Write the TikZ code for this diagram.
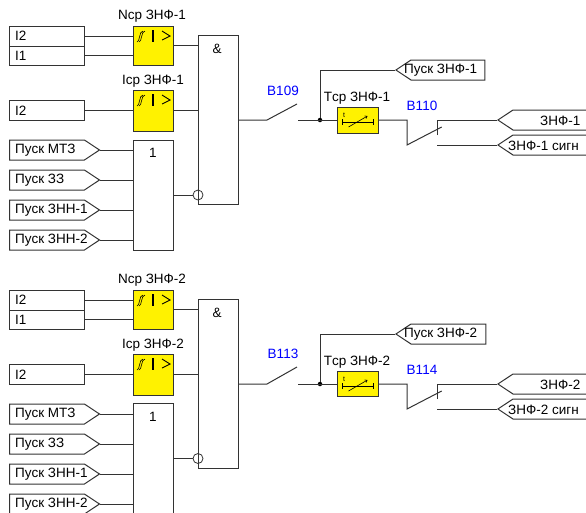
\documentclass[tikz,border=0pt]{standalone}
\usepackage{fontspec}
\setmainfont{Liberation Sans}
\usetikzlibrary{shapes.symbols,arrows.meta}
\definecolor{linegray}{gray}{0.2}
\tikzset{
	lbl/.style={inner sep=0pt, font=\fontsize{13.5}{15}\selectfont},
	lftlbl/.style={lbl, anchor=west},
	blulbl/.style={lbl, text=blue},
	inbox/.style={draw=linegray, line width=1pt, minimum width=75, minimum height=20, inner sep=0pt},
	sigin/.style={signal, signal to=east, signal pointer angle=67, draw=linegray, line width=1pt, minimum width=90, minimum height=20, inner sep=0pt, anchor=west},
	sigout/.style={signal, signal to=west, signal pointer angle=67, draw=linegray, line width=1pt, minimum height=20, inner sep=0pt, anchor=west},
	logic/.style={draw=linegray, line width=1pt, minimum width=40, inner sep=0pt},
	yelbox/.style={draw=linegray, line width=1pt, fill=yellow, minimum width=40, inner sep=0pt},
	wire/.style={draw=linegray, line width=1pt},
	inv/.style={circle, draw=linegray, line width=0.8pt, minimum size=10, inner sep=0pt},
	jdot/.style={circle, fill=black, minimum size=4.5, inner sep=0pt},
}
\newcommand{\hyst}[2]{%
	\draw [line width=0.6pt] (#1-4,#2+6) .. controls (#1-1,#2+6) and (#1-2,#2-5) .. (#1+2,#2-5);
	\draw [line width=0.6pt] (#1-2,#2+6) .. controls (#1+1,#2+6) and (#1,#2-5) .. (#1+4,#2-5);
	\draw [line width=1.5pt] (#1+12,#2-6) -- (#1+12,#2+6);
	\draw [line width=0.9pt] (#1+21,#2-5) -- (#1+29,#2) -- (#1+21,#2+4);
}
\newcommand{\tsym}[2]{%
	\draw [line width=0.7pt] (#1-15.5,#2+2) -- (#1+15.5,#2+2);
	\draw [line width=0.7pt] (#1-15.5,#2-1) -- (#1-15.5,#2+5);
	\draw [line width=0.7pt] (#1+15.5,#2-1) -- (#1+15.5,#2+5);
	\draw [line width=0.6pt, -{Straight Barb[length=2pt,width=3pt]}] (#1-9,#2+7) -- (#1+10,#2-4);
	\node at (#1-13.5,#2-4.5) [inner sep=0pt, font=\fontsize{7}{8}\selectfont] {t};
}

\begin{document}
\begin{tikzpicture}[x=1pt,y=-1pt]
	\clip (0,0) rectangle (586,512);
	\fill [white] (0,0) rectangle (586,512);

	\node (ia) at (46.5,36) [inbox] {};
	\node (ib) at (46.5,55.5) [inbox, minimum height=19] {};
	\node (ic) at (46.5,110) [inbox] {};
	\node (ial) at (15,36) [lftlbl] {I2};
	\node (ibl) at (15,56) [lftlbl] {I1};
	\node (icl) at (15,110.5) [lftlbl] {I2};
	\node (nsr) at (153,45.5) [yelbox, minimum height=39] {};
	\node (isr) at (153,110.5) [yelbox, minimum height=41] {};
	\node (nsrl) at (152,16) [lbl] {Nср ЗНФ-1};
	\node (isrl) at (153,81) [lbl] {Iср ЗНФ-1};
	\hyst{141}{36}
	\hyst{141}{100}
	\node (and) at (218,120) [logic, minimum height=169] {};
	\node (andl) at (217,49) [lbl] {\&};
	\node (or) at (153,195) [logic, minimum height=110] {};
	\node (orl) at (153,153) [lbl] {1};
	\node (pmtz) at (9,150) [sigin] {};
	\node (pzz) at (9,180) [sigin] {};
	\node (pzna) at (9,210) [sigin] {};
	\node (pznb) at (9,240) [sigin] {};
	\node (pmtzl) at (15,150) [lftlbl] {Пуск МТЗ};
	\node (pzzl) at (15,180) [lftlbl] {Пуск ЗЗ};
	\node (pznal) at (15,210) [lftlbl] {Пуск ЗНН-1};
	\node (pznbl) at (15,240) [lftlbl] {Пуск ЗНН-2};
	\node (invl) at (198,195) [inv] {};
	\draw [wire] (ia.east) -- (ia.east -| nsr.west);
	\draw [wire] (ib.east) -- (ib.east -| nsr.west);
	\draw [wire] (ic.east) -- (ic.east -| isr.west);
	\draw [wire] (nsr.east) -- (nsr.east -| and.west);
	\draw [wire] (isr.east) -- (isr.east -| and.west);
	\draw [wire] (pmtz.east) -- (pmtz.east -| or.west);
	\draw [wire] (pzz.east) -- (pzz.east -| or.west);
	\draw [wire] (pzna.east) -- (pzna.east -| or.west);
	\draw [wire] (pznb.east) -- (pznb.east -| or.west);
	\draw [wire] (or.east) -- (invl.west);

	\coordinate (ka) at (267,120);
	\coordinate (kb) at (297,104);
	\coordinate (kc) at (298,120);
	\node (jn) at (320,120) [jdot] {};
	\node (tsr) at (357.5,120) [yelbox, minimum width=41, minimum height=26] {};
	\node (tsrl) at (357,98) [lbl] {Tср ЗНФ-1};
	\node (bla) at (283,91) [blulbl] {B109};
	\node (blb) at (422,106) [blulbl] {B110};
	\tsym{357.5}{120}
	\node (pusk) at (395,70) [sigout, minimum width=89] {};
	\node (zout) at (497,120) [sigout, minimum width=100] {};
	\node (zsig) at (497,145) [sigout, minimum width=100] {};
	\node (puskl) at (404,70.5) [lftlbl] {Пуск ЗНФ-1};
	\node (zoutl) at (540,121) [lftlbl] {ЗНФ-1};
	\node (zsigl) at (508,146) [lftlbl] {ЗНФ-1 сигн};
	\coordinate (kd) at (407,145);
	\coordinate (ke) at (441.7,127);
	\coordinate (kf) at (437,120);
	\coordinate (kg) at (437,135);
	\coordinate (kh) at (437,145);
	\draw [wire] (and.east) -- (ka) -- (kb);
	\draw [wire] (kc) -- (tsr.west);
	\draw [wire] (jn) |- (pusk.west);
	\draw [wire] (tsr.east) -| (kd) -- (ke);
	\draw [wire] (kg) -- (kf) -- (zout.west);
	\draw [wire] (kh) -- (zsig.west);

	\node (ia2) at (46.5,300) [inbox] {};
	\node (ib2) at (46.5,319.5) [inbox, minimum height=19] {};
	\node (ic2) at (46.5,374) [inbox] {};
	\node (ial2) at (15,300) [lftlbl] {I2};
	\node (ibl2) at (15,320) [lftlbl] {I1};
	\node (icl2) at (15,374.5) [lftlbl] {I2};
	\node (nsr2) at (153,309.5) [yelbox, minimum height=39] {};
	\node (isr2) at (153,374.5) [yelbox, minimum height=41] {};
	\node (nsrl2) at (152,280) [lbl] {Nср ЗНФ-2};
	\node (isrl2) at (153,345) [lbl] {Iср ЗНФ-2};
	\hyst{141}{300}
	\hyst{141}{364}
	\node (and2) at (218,384) [logic, minimum height=169] {};
	\node (andl2) at (217,313) [lbl] {\&};
	\node (or2) at (153,458.5) [logic, minimum height=110] {};
	\node (orl2) at (153,417) [lbl] {1};
	\node (pmtz2) at (9,414) [sigin] {};
	\node (pzz2) at (9,444) [sigin] {};
	\node (pzna2) at (9,474) [sigin] {};
	\node (pznb2) at (9,504) [sigin] {};
	\node (pmtzl2) at (15,414) [lftlbl] {Пуск МТЗ};
	\node (pzzl2) at (15,444) [lftlbl] {Пуск ЗЗ};
	\node (pznal2) at (15,474) [lftlbl] {Пуск ЗНН-1};
	\node (pznbl2) at (15,504) [lftlbl] {Пуск ЗНН-2};
	\node (invl2) at (198,458.5) [inv] {};
	\draw [wire] (ia2.east) -- (ia2.east -| nsr2.west);
	\draw [wire] (ib2.east) -- (ib2.east -| nsr2.west);
	\draw [wire] (ic2.east) -- (ic2.east -| isr2.west);
	\draw [wire] (nsr2.east) -- (nsr2.east -| and2.west);
	\draw [wire] (isr2.east) -- (isr2.east -| and2.west);
	\draw [wire] (pmtz2.east) -- (pmtz2.east -| or2.west);
	\draw [wire] (pzz2.east) -- (pzz2.east -| or2.west);
	\draw [wire] (pzna2.east) -- (pzna2.east -| or2.west);
	\draw [wire] (pznb2.east) -- (pznb2.east -| or2.west);
	\draw [wire] (or2.east) -- (invl2.west);

	\coordinate (ka2) at (267,384);
	\coordinate (kb2) at (297,367);
	\coordinate (kc2) at (298,384);
	\node (jn2) at (320,384) [jdot] {};
	\node (tsr2) at (357.5,384) [yelbox, minimum width=41, minimum height=25] {};
	\node (tsrl2) at (357,362) [lbl] {Tср ЗНФ-2};
	\node (bla2) at (283,354) [blulbl] {B113};
	\node (blb2) at (422,370) [blulbl] {B114};
	\tsym{357.5}{384}
	\node (pusk2) at (395,334) [sigout, minimum width=90] {};
	\node (zout2) at (497,384) [sigout, minimum width=100] {};
	\node (zsig2) at (497,409) [sigout, minimum width=100] {};
	\node (puskl2) at (404,334.5) [lftlbl] {Пуск ЗНФ-2};
	\node (zoutl2) at (540,385) [lftlbl] {ЗНФ-2};
	\node (zsigl2) at (508,410) [lftlbl] {ЗНФ-2 сигн};
	\coordinate (kd2) at (407,409);
	\coordinate (ke2) at (441.7,391);
	\coordinate (kf2) at (437,384);
	\coordinate (kg2) at (437,399);
	\coordinate (kh2) at (437,409);
	\draw [wire] (and2.east) -- (ka2) -- (kb2);
	\draw [wire] (kc2) -- (tsr2.west);
	\draw [wire] (jn2) |- (pusk2.west);
	\draw [wire] (tsr2.east) -| (kd2) -- (ke2);
	\draw [wire] (kg2) -- (kf2) -- (zout2.west);
	\draw [wire] (kh2) -- (zsig2.west);
\end{tikzpicture}
\end{document}
